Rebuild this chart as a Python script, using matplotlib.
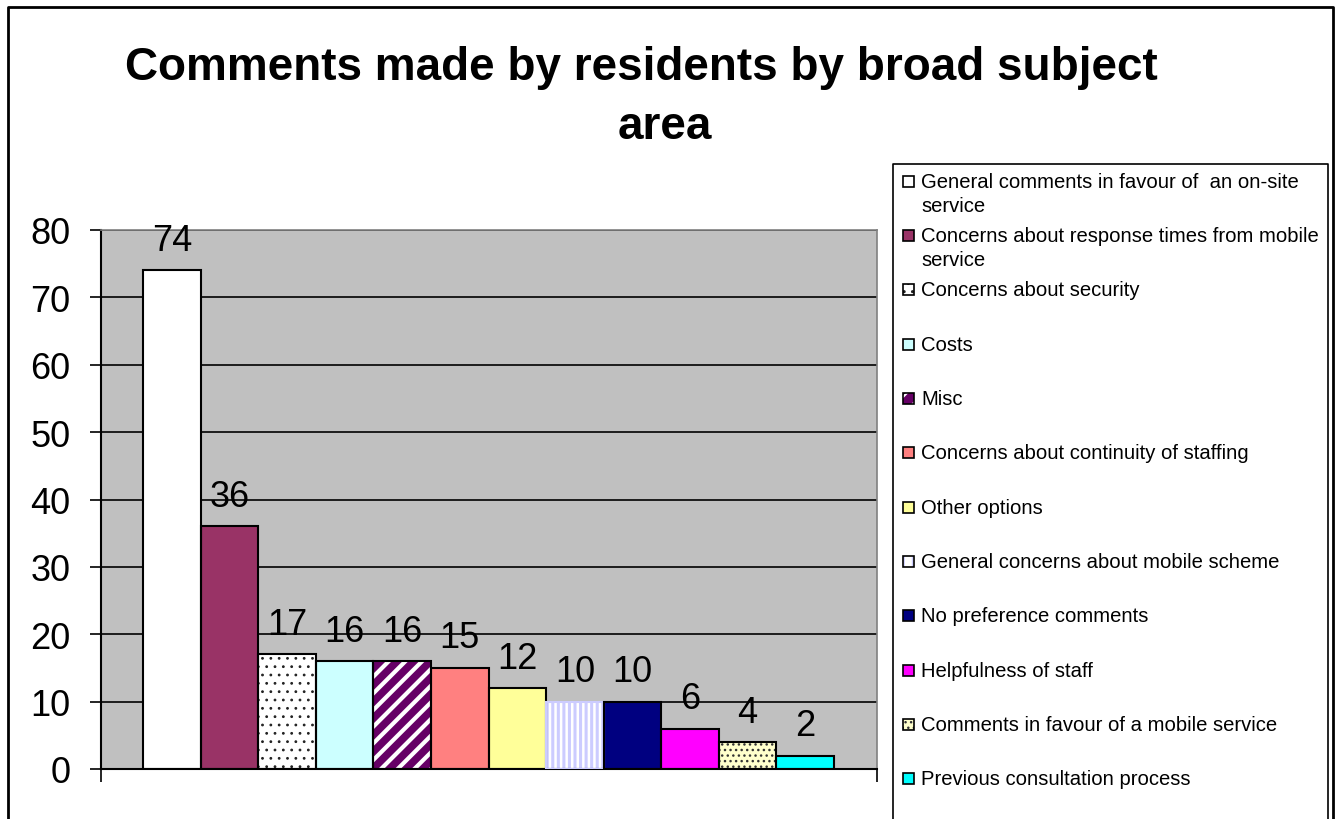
import matplotlib
matplotlib.use('Agg')
import matplotlib.pyplot as plt
from matplotlib.lines import Line2D
from matplotlib.patches import Rectangle

plt.rcParams['font.family'] = ['Liberation Sans', 'DejaVu Sans']

categories = [
    'General comments in favour of  an on-site\nservice',
    'Concerns about response times from mobile\nservice',
    'Concerns about security',
    'Costs',
    'Misc',
    'Concerns about continuity of staffing',
    'Other options',
    'General concerns about mobile scheme',
    'No preference comments',
    'Helpfulness of staff',
    'Comments in favour of a mobile service',
    'Previous consultation process',
]
counts = [74, 36, 17, 16, 16, 15, 12, 10, 10, 6, 4, 2]

# fill, hatch, hatch colour, hatch line width (pt)
fills = ['white', '#993366', 'white', '#CCFFFF', '#660066', '#FF8080',
         '#FFFF99', 'white', '#000080', '#FF00FF', '#FFFFCC', '#00FFFF']
hatches = [None, None, '..', None, '//', None, None, '|||', None, None, '...', None]
hatch_cols = [None, None, '#222222', None, 'white', None, None, '#CCCCFF', None, None, '#333333', None]
hatch_lw = [1, 1, 0.8, 1, 3.0, 1, 1, 2.2, 1, 1, 1.0, 1]

W, H = 1337, 820
fig = plt.figure(figsize=(W / 100, H / 100), dpi=100, facecolor='white')

def fx(px):
    return px / W

def fy(py):
    return 1 - py / H

def hatched(p, lw):
    if hasattr(p, 'set_hatch_linewidth'):
        p.set_hatch_linewidth(lw)

ax = fig.add_axes([fx(101), fy(770), fx(877) - fx(101), fy(231) - fy(770)])
ax.set_facecolor('#C0C0C0')

x = list(range(len(counts)))
for i, (v, fc, h, hc, lw) in enumerate(zip(counts, fills, hatches, hatch_cols, hatch_lw)):
    if h:
        with plt.rc_context({'hatch.linewidth': lw}):
            b = ax.bar(x[i], v, width=1.0, color=fc, edgecolor=hc, hatch=h, linewidth=0, zorder=2)
        for p in b:
            hatched(p, lw)
    else:
        ax.bar(x[i], v, width=1.0, color=fc, linewidth=0, zorder=2)
    edge = '#CCCCFF' if h == '|||' else 'black'
    ax.bar(x[i], v, width=1.0, fill=False, edgecolor=edge, linewidth=1.5, zorder=3)
    ax.annotate(str(v), (x[i], v), xytext=(0, 9), textcoords='offset points',
                ha='center', va='bottom', fontsize=26, zorder=4)

ax.set_xlim(-1.229, 12.246)
ax.set_ylim(0, 80)
ax.set_yticks(range(0, 81, 10))
ax.set_xticks([-1.229, 12.246])
ax.set_xticklabels([])
ax.tick_params(axis='y', direction='out', length=8, width=1.2, pad=14, labelsize=26)
ax.tick_params(axis='x', direction='out', length=9, width=1.2)
ax.yaxis.grid(True, color='black', linewidth=1.2)
ax.set_axisbelow(True)
for s in ['top', 'right']:
    ax.spines[s].set_color('#808080')
    ax.spines[s].set_linewidth(1.2)
for s in ['left', 'bottom']:
    ax.spines[s].set_color('black')
    ax.spines[s].set_linewidth(1.5)

fig.text(fx(641), fy(68), 'Comments made by residents by broad subject',
         ha='center', va='center', fontsize=33, fontweight='bold')
fig.text(fx(665), fy(127), 'area', ha='center', va='center', fontsize=33, fontweight='bold')

# outer frame (open at the bottom)
fig.add_artist(Line2D([fx(8), fx(8), fx(1333), fx(1333)], [0, fy(8), fy(8), 0],
                      color='black', linewidth=2))
# legend frame
fig.add_artist(Line2D([fx(893), fx(893), fx(1328), fx(1328)], [0, fy(165), fy(165), 0],
                      color='black', linewidth=1.2))

for i, (lab, fc, h, hc) in enumerate(zip(categories, fills, hatches, hatch_cols)):
    yc = 182 + i * 54.35
    box = ((fx(903), fy(yc + 5.5)), fx(11), fy(0) - fy(11))
    if h:
        sq = Rectangle(*box, transform=fig.transFigure, facecolor=fc, edgecolor=hc,
                       hatch=h.replace('|||', '||'), linewidth=0)
        hatched(sq, 1.5 if h == '//' else 1.0)
        fig.add_artist(sq)
        fig.add_artist(Rectangle(*box, transform=fig.transFigure, fill=False,
                                 edgecolor='black', linewidth=1.2))
    else:
        fig.add_artist(Rectangle(*box, transform=fig.transFigure, facecolor=fc,
                                 edgecolor='black', linewidth=1.2))
    for k, line in enumerate(lab.split('\n')):
        fig.text(fx(921), fy(yc + k * 24), line, ha='left', va='center', fontsize=14.6)

fig.savefig('out.png', dpi=100, facecolor='white')
